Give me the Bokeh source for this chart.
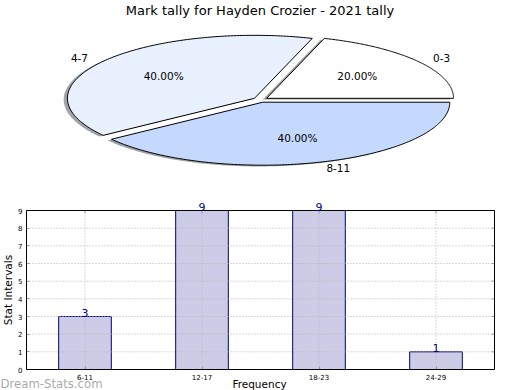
import numpy as np
from bokeh.plotting import figure
from bokeh.models import (ColumnDataSource, Range1d, FactorRange, LabelSet, Label,
                          LinearAxis, CategoricalAxis, BoxAnnotation)
from bokeh.layouts import column
from bokeh.core.properties import value
from bokeh.embed import file_html
from bokeh.resources import INLINE

# ---------------- data ----------------
title_text = "Mark tally for Hayden Crozier - 2021 tally"
pie_labels = ["0-3", "4-7", "8-11"]
pie_pct = [20.0, 40.0, 40.0]
pie_colors = ["#ffffff", "#eaf1fe", "#c5d9fe"]

bar_cats = ["6-11", "12-17", "18-23", "24-29"]
bar_vals = [3, 9, 9, 1]
y_ticks = [0, 1, 2, 3, 4, 5, 6, 7, 8, 9]
x_label = "Frequency"
y_label = "Stat Intervals"
watermark = "Dream-Stats.com"

# ---------------- style / layout ----------------
FONT = "DejaVu Sans"
W = 520
PIE_H = 200
BAR_H = 190
RX, RY = 187.0, 63.0             # pixels per pie unit (horizontal / vertical)
CX, CY = 260.0, 99.3             # pie centre (px from left / top of pie plot)
EXPLODE = 0.04
SHADOW = (-0.02, -0.02)

BOX_TOP, BOX_BOT = 10.0, 169.0   # axes box inside the bar plot (px from its top)
BOX_L, BOX_R = 26.0, 494.0       # axes box (px from left)
WM_BASE = 183.5                  # watermark baseline (px from top of bar plot)
GRID = "#b4b4b4"
TICK = "#999999"

# ---------------- pie ----------------
p1 = figure(width=W, height=PIE_H, output_backend="svg", toolbar_location=None,
            x_axis_type=None, y_axis_type=None, min_border=0,
            x_range=Range1d(-CX / RX, (W - CX) / RX),
            y_range=Range1d(-(PIE_H - CY) / RY, CY / RY))
p1.grid.visible = False
p1.outline_line_color = None


def shade(hexcol, f=0.3):
    h = hexcol.lstrip("#")
    r, g, b = (int(h[i:i + 2], 16) for i in (0, 2, 4))
    return "#%02x%02x%02x" % (int(r * f), int(g * f), int(b * f))


wedge_xs, wedge_ys, shad_xs, shad_ys, shad_cols = [], [], [], [], []
label_info = []
start = 0.0
for lab, pct, col in zip(pie_labels, pie_pct, pie_colors):
    a1 = start
    a2 = start + pct / 100.0 * 360.0
    start = a2
    mid = np.deg2rad((a1 + a2) / 2.0)
    ox, oy = EXPLODE * np.cos(mid), EXPLODE * np.sin(mid)
    t = np.linspace(np.deg2rad(a1), np.deg2rad(a2), 160)
    xs = np.concatenate([[ox], ox + np.cos(t)])
    ys = np.concatenate([[oy], oy + np.sin(t)])
    wedge_xs.append(list(xs))
    wedge_ys.append(list(ys))
    shad_xs.append(list(xs + SHADOW[0]))
    shad_ys.append(list(ys + SHADOW[1]))
    shad_cols.append(shade(col))
    label_info.append((lab, pct, ox, oy, mid))

p1.patches(xs=shad_xs, ys=shad_ys, fill_color=shad_cols, fill_alpha=0.5,
           line_color=None)
p1.patches(xs=wedge_xs, ys=wedge_ys, fill_color=pie_colors,
           line_color="black", line_width=1)

for lab, pct, ox, oy, mid in label_info:
    lx = ox + 1.1 * np.cos(mid)
    ly = oy + 1.1 * np.sin(mid)
    p1.text(x=[lx], y=[ly], text=[lab],
            text_align="left" if np.cos(mid) > 0 else "right",
            text_baseline="middle", text_font=value(FONT),
            text_font_size="10.5px", text_color="black")
    px = ox + 0.6 * np.cos(mid)
    py = oy + 0.6 * np.sin(mid)
    p1.text(x=[px], y=[py], text=["%.2f%%" % pct], text_align="center",
            text_baseline="middle", text_font=value(FONT),
            text_font_size="10.5px", text_color="black")

p1.add_layout(Label(x=259.5, y=PIE_H - 10, x_units="screen",
                    y_units="screen", text=title_text, text_align="center",
                    text_baseline="middle", text_font=FONT,
                    text_font_size="13px", text_color="black"))

# ---------------- bar chart ----------------
n = len(bar_cats)
px_per_cat = (BOX_R - BOX_L) / n
pad_pct = 2 * (BOX_L / px_per_cat) / n          # symmetric side padding
ymin, ymax = y_ticks[0], y_ticks[-1]
px_per_y = (BOX_BOT - BOX_TOP) / (ymax - ymin)

p2 = figure(width=W, height=BAR_H, output_backend="svg", toolbar_location=None,
            x_range=FactorRange(*bar_cats, range_padding=pad_pct,
                                range_padding_units="percent"),
            y_range=Range1d(ymin - (BAR_H - BOX_BOT) / px_per_y,
                            ymax + BOX_TOP / px_per_y),
            x_axis_location=None, y_axis_location=None, min_border=0)
p2.grid.visible = False
p2.outline_line_color = None

# watermark in the bottom-left corner, behind everything else
p2.text(x=[-BOX_L / px_per_cat], y=[ymin - (WM_BASE - BOX_BOT) / px_per_y],
        text=[watermark], text_align="left", text_baseline="alphabetic",
        text_font=value(FONT), text_font_size="11.7px", text_color="#999999",
        text_alpha=0.85)

src = ColumnDataSource(dict(cat=bar_cats, val=bar_vals,
                            txt=[str(v) for v in bar_vals]))
p2.vbar(x="cat", top="val", width=0.45, source=src, fill_color="#ccccE6",
        line_color="#000080", line_width=1)

# dotted grid, drawn over the bars and only inside the axes box
p2.segment(x0=0, x1=n, y0=y_ticks, y1=y_ticks, line_color=GRID,
           line_dash="1 2", line_width=1)
p2.segment(x0=bar_cats, x1=bar_cats, y0=ymin, y1=ymax, line_color=GRID,
           line_dash="1 2", line_width=1)

# inward tick marks on the right and top edges of the box
p2.ray(x=n, y=y_ticks, length=3, length_units="screen", angle=np.pi,
       line_color=TICK, line_width=1)
p2.ray(x=bar_cats, y=ymax, length=3, length_units="screen",
       angle=-np.pi / 2, line_color=TICK, line_width=1)

p2.add_layout(BoxAnnotation(left=0, right=n, bottom=ymin, top=ymax,
                            fill_color=None, fill_alpha=0,
                            line_color="black", line_alpha=1.0,
                            line_width=1))

yax = LinearAxis(ticker=y_ticks, fixed_location=0, bounds=(ymin, ymax),
                 axis_label=y_label)
xax = CategoricalAxis(fixed_location=ymin)
for ax in (xax, yax):
    ax.major_label_text_font = FONT
    ax.major_label_text_font_size = "7px"
    ax.major_label_text_color = "black"
    ax.major_label_standoff = 4
    ax.major_tick_in = 3
    ax.major_tick_out = 0
    ax.major_tick_line_color = TICK
    ax.minor_tick_line_color = None
    ax.axis_line_color = None
yax.axis_label_text_font = FONT
yax.axis_label_text_font_size = "10.5px"
yax.axis_label_text_font_style = "normal"
yax.axis_label_text_color = "black"
yax.axis_label_standoff = 1
p2.add_layout(yax, "left")
p2.add_layout(xax, "below")

p2.add_layout(LabelSet(x="cat", y="val", text="txt", source=src,
                       text_align="center", text_baseline="alphabetic",
                       text_font=value(FONT), text_font_size="11px",
                       text_color="#000080"))

p2.add_layout(Label(x=259, y=13, x_units="screen", y_units="screen",
                    text=x_label, text_align="center", text_baseline="top",
                    text_font=FONT, text_font_size="10.5px",
                    text_color="black"))

layout = column(p1, p2, spacing=0)
open("out.html", "w").write(file_html(layout, INLINE))
